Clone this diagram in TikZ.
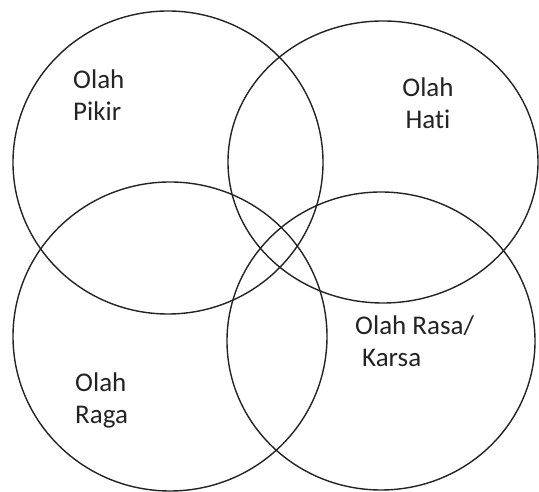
\documentclass[tikz,border=0pt]{standalone}
\usepackage{fontspec}
\setmainfont{Carlito}[Ligatures=NoCommon]
\usepackage{tikz}
\usetikzlibrary{shapes.geometric}
\usepackage{xcolor}
\definecolor{ringgray}{RGB}{35,35,35}
\definecolor{labelgray}{RGB}{35,35,35}

\begin{document}
\begin{tikzpicture}[x=1pt, y=1pt,
    ring/.style={ellipse, draw=ringgray, line width=1.4pt, inner sep=0pt, outer sep=0pt},
    olah/.style={font=\fontsize{27}{32}\selectfont, text=labelgray, inner sep=0pt}]
    \useasboundingbox (0,0) rectangle (539,492);
    \foreach \nm/\cx/\cy/\w/\h in {pikir/168/329.5/310/303, hati/383/330/310/282,
                                   raga/170/155.5/314/309, rasa/381/151/308/298} {
        \node[ring, minimum width=\w pt, minimum height=\h pt] (\nm) at (\cx,\cy) {};
    }
    \node[olah, anchor=north west, align=left] (pikirtext) at (73,422) {Olah\\Pikir};
    \node[olah, anchor=north, align=center] (hatitext) at (428,414) {Olah\\Hati};
    \node[olah, anchor=north west, align=left] (ragatext) at (75,119) {Olah\\Raga};
    \node[olah, anchor=north west, align=left] (rasatext) at (355,176) {Olah Rasa/\\\hspace{7pt}Karsa};
\end{tikzpicture}
\end{document}
